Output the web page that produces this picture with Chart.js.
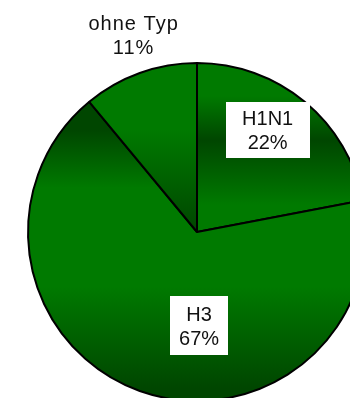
<!DOCTYPE html>
<html>
<head>
<meta charset="utf-8">
<script src="https://cdn.jsdelivr.net/npm/chart.js@4/dist/chart.umd.min.js"></script>
<style>
  html, body { margin: 0; padding: 0; background: #fff; overflow: hidden; }
  #wrap { position: relative; width: 350px; height: 398px; overflow: hidden; }
  #pie { position: absolute; left: 0; top: 0; }
</style>
</head>
<body>
<div id="wrap"><canvas id="pie" width="400" height="410"></canvas></div>
<script>
// Virus types, clockwise from 12 o'clock
const labels = ["H1N1", "H3", "ohne Typ"];
const shares = [22, 67, 11];

const BRIGHT = "#007a00";
const DARK = "#004600";

// vertical gradient stops per slice, as fraction of the pie's diameter (top -> bottom)
const gradStops = [
  [[0, BRIGHT], [0.1, BRIGHT], [0.23, DARK], [0.42, BRIGHT], [1, BRIGHT]],
  [[0, DARK], [0.2, DARK], [0.37, BRIGHT], [0.66, BRIGHT], [0.96, DARK], [1, DARK]],
  [[0, BRIGHT], [0.2, BRIGHT], [0.5, DARK], [1, DARK]],
];

// label placement relative to pie centre (units of radius), optional white box size
const labelPos = [
  { dx: 0.418, dy: -0.606, box: [84, 56] },
  { dx: 0.012, dy: 0.556, box: [58, 59] },
  { dx: -0.375, dy: -1.165, box: null },
];

function sliceFill(ctx) {
  const area = ctx.chart.chartArea;
  if (!area) return BRIGHT;
  const g = ctx.chart.ctx.createLinearGradient(0, area.top, 0, area.bottom);
  for (const [off, col] of gradStops[ctx.dataIndex]) g.addColorStop(off, col);
  return g;
}

const labelPlugin = {
  id: "sliceLabels",
  afterDatasetsDraw(chart) {
    const c = chart.ctx;
    const meta = chart.getDatasetMeta(0);
    const total = shares.reduce((a, b) => a + b, 0);
    meta.data.forEach((arc, i) => {
      const p = labelPos[i];
      const cx = arc.x + p.dx * arc.outerRadius;
      const cy = arc.y + p.dy * arc.outerRadius;
      c.save();
      if (p.box) {
        c.fillStyle = "#fff";
        c.fillRect(Math.round(cx - p.box[0] / 2), Math.round(cy - p.box[1] / 2), p.box[0], p.box[1]);
      }
      c.font = "20px 'Liberation Sans', Arial, sans-serif";
      c.fillStyle = "#111";
      c.textAlign = "center";
      c.textBaseline = "alphabetic";
      if (!p.box) c.letterSpacing = "1px";
      const pct = Math.round(shares[i] / total * 100) + "%";
      c.fillText(labels[i], cx, cy - 5);
      c.fillText(pct, cx, cy + 19);
      c.restore();
    });
  }
};

new Chart(document.getElementById("pie"), {
  type: "pie",
  data: {
    labels,
    datasets: [{
      data: shares,
      backgroundColor: sliceFill,
      borderColor: "#000",
      borderWidth: 2,
    }]
  },
  options: {
    responsive: false,
    animation: false,
    events: [],
    layout: { padding: { left: 27, top: 62, right: 33, bottom: 8 } },
    plugins: { legend: { display: false }, tooltip: { enabled: false } }
  },
  plugins: [labelPlugin]
});
</script>
</body>
</html>
